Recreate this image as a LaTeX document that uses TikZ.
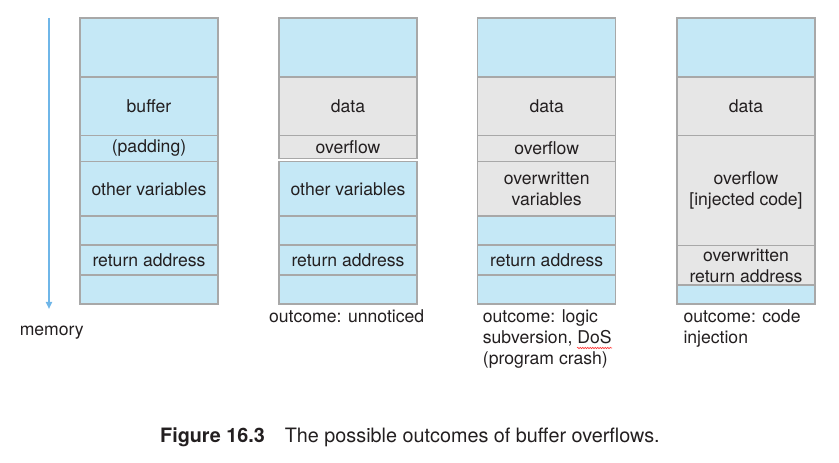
\documentclass[tikz,border=0pt]{standalone}
\usepackage{fontspec}
\setmainfont{TeX Gyre Heros}
\usetikzlibrary{arrows.meta,decorations.pathmorphing}
\definecolor{stackblue}{HTML}{C5E8F6}
\definecolor{datagray}{HTML}{E6E6E6}
\definecolor{edgegray}{HTML}{A8A8A8}
\definecolor{inkgray}{HTML}{231F20}
\definecolor{arrowblue}{HTML}{6FB6E8}
\tikzset{
  cell/.style={draw=edgegray, line width=1.3bp, minimum width=138bp, inner sep=0pt,
    align=center, text=inkgray, font=\fontsize{17.6bp}{21bp}\selectfont},
  free/.style={cell, fill=stackblue},
  used/.style={cell, fill=datagray},
  note/.style={text=inkgray, inner sep=0pt, align=left, font=\fontsize{17.6bp}{21bp}\selectfont}
}
\begin{document}
\begin{tikzpicture}[x=1bp,y=-1bp]
\useasboundingbox (0,0) rectangle (839,463);
% memory direction
\coordinate (mtop) at (49,18);
\coordinate (mbot) at (49,309);
\draw[arrowblue, line width=2bp, -{Triangle[width=6bp,length=7bp]}] (mtop) -- (mbot);
\node[note, anchor=base] (mem) at (51.8,336) {memory};
% normal stack
\node[free, minimum height=59bp] (atop) at (149,47.5) {};
\node[free, minimum height=58bp] (abuf) at (149,106.5) {buffer};
\node[free, minimum height=26bp] (apad) at (149,148.5) {(padding)};
\node[free, minimum height=55bp] (avar) at (149,189) {other variables};
\node[free, minimum height=29bp] (agap) at (149,230.5) {};
\node[free, minimum height=30bp] (aret) at (149,260.5) {return address};
\node[free, minimum height=29bp] (abot) at (149,289.5) {};
% unnoticed
\node[free, minimum height=59bp] (btop) at (348,47.5) {};
\node[used, minimum height=58bp] (bdat) at (348,106.5) {data};
\node[used, minimum height=23bp] (bovf) at (348,147) {overflow};
\node[free, minimum height=55bp] (bvar) at (348,189) {other variables};
\node[free, minimum height=29bp] (bgap) at (348,230.5) {};
\node[free, minimum height=30bp] (bret) at (348,260.5) {return address};
\node[free, minimum height=29bp] (bbot) at (348,289.5) {};
\node[note, anchor=base] (bout) at (346.7,323) {outcome: unnoticed};
% logic subversion
\node[free, minimum height=59bp] (ctop) at (546.7,47.5) {};
\node[used, minimum height=58bp] (cdat) at (546.7,106.5) {data};
\node[used, minimum height=26bp] (covf) at (546.7,148.5) {overflow};
\node[used, minimum height=55bp] (cvar) at (546.7,189) {overwritten\\variables};
\node[free, minimum height=29bp] (cgap) at (546.7,230.5) {};
\node[free, minimum height=30bp] (cret) at (546.7,260.5) {return address};
\node[free, minimum height=29bp] (cbot) at (546.7,289.5) {};
\node[note, anchor=base west] (cout) at (482.7,365) {outcome: logic\\subversion, DoS\\(program crash)};
\draw[red!80, line width=0.6bp, decorate, decoration={snake, segment length=2.5bp, amplitude=0.7bp}]
  (577,348) -- (612,348);
% code injection
\node[free, minimum height=59bp] (dtop) at (746,47.5) {};
\node[used, minimum height=58bp] (ddat) at (746,106.5) {data};
\node[used, minimum height=110bp] (dovf) at (746,190.5) {overflow\\{[injected code]}};
\node[used, minimum height=40bp] (dret) at (746,265.5) {overwritten\\return address};
\node[free, minimum height=19bp] (dbot) at (746,294.5) {};
\node[note, anchor=base west] (dout) at (683.3,344) {outcome: code\\injection};
% caption
\node[note, anchor=base west, font=\fontsize{19.8bp}{23bp}\selectfont] (cap) at (160,442)
  {\bfseries Figure 16.3\hspace{20bp}\mdseries The possible outcomes of buffer overflows.};
\end{tikzpicture}
\end{document}
